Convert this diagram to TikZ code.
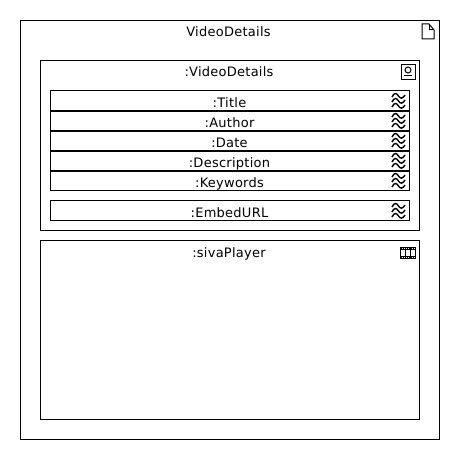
\documentclass[tikz,border=0pt]{standalone}
\usepackage{fontspec}
\setmainfont[LetterSpace=2]{DejaVu Sans}
\tikzset{
  frame/.style={draw,line width=1pt,inner sep=0pt,anchor=north west},
  rowbox/.style={draw,line width=1pt,inner sep=0pt,minimum width=359pt,minimum height=21pt,text height=13pt,text depth=0pt,font=\fontsize{13}{15}\selectfont},
  lastbox/.style={rowbox,minimum height=20pt,text height=14pt},
  boxtitle/.style={inner sep=0pt,text height=9pt,text depth=0pt,font=\fontsize{13}{15}\selectfont},
  icon/.style={line width=1pt},
  pics/waves/.style={code={
    \foreach \h in {-5,0,5}
      \draw [icon,line width=1.4pt] (-6.5,\h+1) .. controls (-4,\h-4) and (-2,\h-3) .. (0,\h) .. controls (2,\h+3) and (4,\h+3) .. (6.5,\h-1);
  }}
}
\begin{document}
\begin{tikzpicture}[x=1pt,y=-1pt]
\useasboundingbox (0,0) rectangle (460,460);
\node [frame,minimum width=419pt,minimum height=419pt] (outer) at (20,20) {};
\node [frame,minimum width=379pt,minimum height=170pt] (details) at (40,60) {};
\node [frame,minimum width=379pt,minimum height=179pt] (player) at (40,240) {};

\node [boxtitle] (outertitle) at (228.5,32) {VideoDetails};
\node [boxtitle] (detailstitle) at (229,72) {:VideoDetails};
\node [boxtitle] (playertitle) at (229,252.5) {:sivaPlayer};

\node [rowbox] (title) at (229.5,100.5) {:Title};
\node [rowbox] (author) at (229.5,120.5) {:Author};
\node [rowbox] (date) at (229.5,140.5) {:Date};
\node [rowbox] (description) at (229.5,160.5) {:Description};
\node [lastbox] (keywords) at (229.5,180) {:Keywords};
\node [lastbox] (embed) at (229.5,210) {:EmbedURL};

\foreach \y in {101,121,141,161,181,211}
  \pic at (398.5,\y) {waves};

% page icon
\draw [icon] (422,24) -- (429,24) -- (434,30) -- (434,39) -- (422,39) -- cycle;
\draw [icon] (429,24) -- (429,30) -- (434,30);
% picture icon
\draw [icon] (401.5,64.5) rectangle (415,79);
\draw [icon] (408,70) circle (3);
\draw [icon] (404,75.5) -- (412,75.5);
% film icon
\draw [icon] (400.5,247.5) rectangle (415,258);
\draw [icon] (405.5,247.5) -- (405.5,258) (410.5,247.5) -- (410.5,258);
\draw [icon] (400.5,249.5) -- (415,249.5) (400.5,256) -- (415,256);
\draw [icon,dash pattern=on 1pt off 1pt] (400.5,248.5) -- (415,248.5) (400.5,257) -- (415,257);
\end{tikzpicture}
\end{document}
